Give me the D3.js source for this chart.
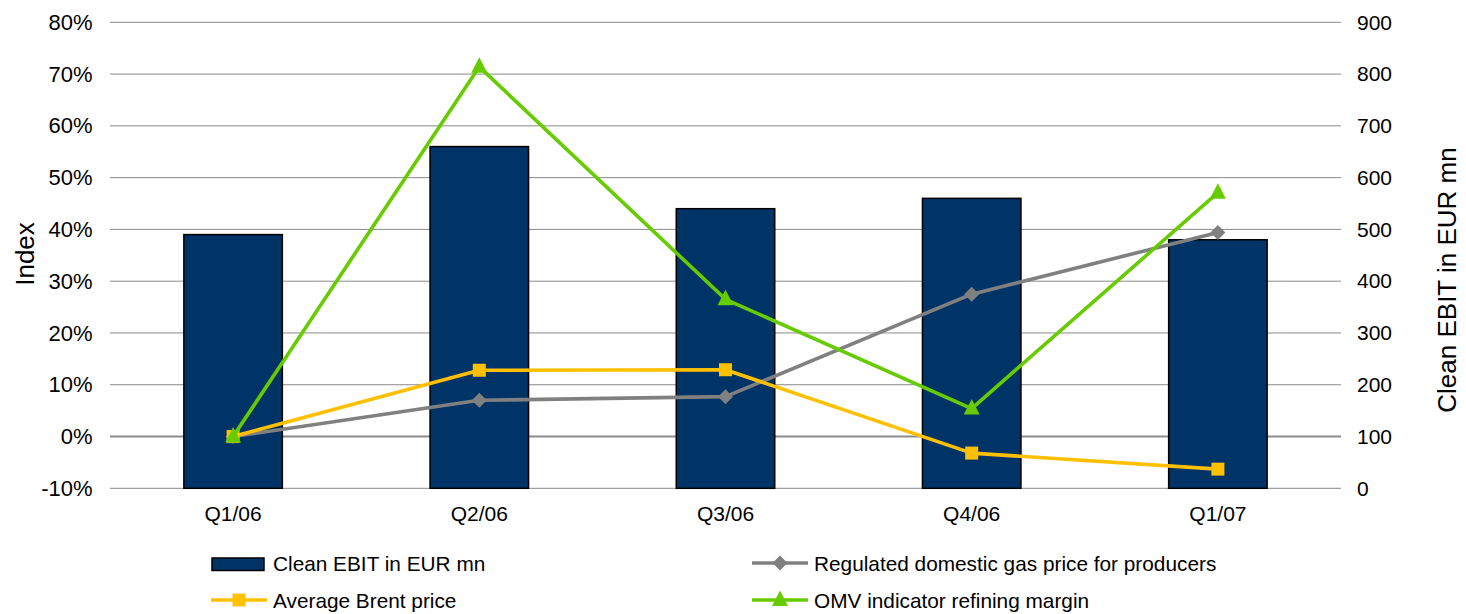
<!DOCTYPE html>
<html>
<head>
<meta charset="utf-8">
<script src="https://cdn.jsdelivr.net/npm/d3@7/dist/d3.min.js"></script>
<style>
  html, body { margin: 0; padding: 0; background: #fff; }
  svg { display: block; font-family: "Liberation Sans", Arial, sans-serif; }
</style>
</head>
<body>
<svg id="chart" width="1466" height="614"></svg>
<script>
const categories = ["Q1/06", "Q2/06", "Q3/06", "Q4/06", "Q1/07"];
const cleanEbit = [490, 660, 540, 560, 480];
const gasPrice = [0, 7.0, 7.7, 27.5, 39.4];
const brentPrice = [0, 12.8, 12.9, -3.2, -6.3];
const refiningMargin = [0, 71.4, 26.5, 5.4, 47.1];
const leftTicks = [-10, 0, 10, 20, 30, 40, 50, 60, 70, 80];
const rightTicks = [0, 100, 200, 300, 400, 500, 600, 700, 800, 900];

(function () {
const svg = d3.select("#chart");
const pLeft = 110, pRight = 1341, pTop = 22.3, pBottom = 488.3;

const x = d3.scaleBand().domain(categories).range([pLeft, pRight])
  .paddingInner(0.6).paddingOuter(0.3);
const yL = d3.scaleLinear().domain([-10, 80]).range([pBottom, pTop]);
const yR = d3.scaleLinear().domain([0, 900]).range([pBottom, pTop]);
const cx = c => x(c) + x.bandwidth() / 2;

// gridlines
svg.append("g").selectAll("line").data(leftTicks.filter(d => d !== 0)).join("line")
  .attr("x1", pLeft).attr("x2", pRight)
  .attr("y1", d => yL(d)).attr("y2", d => yL(d))
  .attr("stroke", "#8a8a8a").attr("stroke-width", 1);
svg.append("line").attr("x1", pLeft).attr("x2", pRight)
  .attr("y1", yL(0)).attr("y2", yL(0))
  .attr("stroke", "#8c8c8c").attr("stroke-width", 2);

// left axis
const axL = svg.append("g").attr("transform", `translate(${pLeft - 17.5},0)`)
  .call(d3.axisLeft(yL).tickValues(leftTicks).tickFormat(d => d + "%").tickSize(0).tickPadding(0));
axL.select(".domain").remove();
axL.selectAll("text").attr("font-size", 22).attr("fill", "#000")
  .attr("font-family", "Liberation Sans, Arial, sans-serif");

// right axis
const axR = svg.append("g").attr("transform", `translate(${pRight + 16},0)`)
  .call(d3.axisRight(yR).tickValues(rightTicks).tickSize(0).tickPadding(0));
axR.select(".domain").remove();
axR.selectAll("text").attr("font-size", 21).attr("fill", "#000")
  .attr("font-family", "Liberation Sans, Arial, sans-serif");

// x axis labels
const axX = svg.append("g").attr("transform", `translate(0,${pBottom + 18})`)
  .call(d3.axisBottom(x).tickSize(0).tickPadding(0));
axX.select(".domain").remove();
axX.selectAll("text").attr("font-size", 21).attr("fill", "#000")
  .attr("font-family", "Liberation Sans, Arial, sans-serif");

// bars
svg.append("g").selectAll("rect").data(cleanEbit).join("rect")
  .attr("x", (d, i) => x(categories[i]))
  .attr("width", x.bandwidth())
  .attr("y", d => yR(d))
  .attr("height", d => yR(0) - yR(d))
  .attr("fill", "#003366").attr("stroke", "#000").attr("stroke-width", 1.5);

// markers
function marker(g, type, color, px, py) {
  if (type === "diamond") {
    g.append("path").attr("d", `M${px},${py - 7.5}L${px + 7.5},${py}L${px},${py + 7.5}L${px - 7.5},${py}Z`).attr("fill", color);
  } else if (type === "square") {
    g.append("rect").attr("x", px - 6.5).attr("y", py - 6.5).attr("width", 13).attr("height", 13).attr("fill", color);
  } else {
    g.append("path").attr("d", `M${px},${py - 9.5}L${px + 8},${py + 6}L${px - 8},${py + 6}Z`).attr("fill", color);
  }
}

const seriesList = [
  { name: "Regulated domestic gas price for producers", values: gasPrice, color: "#808080", type: "diamond" },
  { name: "Average Brent price", values: brentPrice, color: "#FFC000", type: "square" },
  { name: "OMV indicator refining margin", values: refiningMargin, color: "#66CC00", type: "triangle" }
];

const line = d3.line().x((d, i) => cx(categories[i])).y(d => yL(d));
seriesList.forEach(s => {
  const g = svg.append("g");
  g.append("path").datum(s.values).attr("d", line)
    .attr("fill", "none").attr("stroke", s.color).attr("stroke-width", 3.6)
    .attr("stroke-linejoin", "round");
  s.values.forEach((v, i) => marker(g, s.type, s.color, cx(categories[i]), yL(v)));
});

// axis titles
svg.append("text").attr("transform", `translate(25,254) rotate(-90)`)
  .attr("text-anchor", "middle").attr("dominant-baseline", "central")
  .attr("font-size", 26).text("Index");
svg.append("text").attr("transform", `translate(1447,280) rotate(-90)`)
  .attr("text-anchor", "middle").attr("dominant-baseline", "central")
  .attr("font-size", 26).text("Clean EBIT in EUR mn");

// legend
const leg = svg.append("g").attr("font-size", 20.8);
leg.append("rect").attr("x", 212).attr("y", 558).attr("width", 52).attr("height", 12.5)
  .attr("fill", "#003366").attr("stroke", "#000").attr("stroke-width", 1.5);
leg.append("text").attr("x", 273).attr("y", 563).attr("dominant-baseline", "central").text("Clean EBIT in EUR mn");

const legPos = [
  { s: seriesList[0], x0: 752, y: 563 },
  { s: seriesList[1], x0: 211, y: 600 },
  { s: seriesList[2], x0: 752, y: 600 }
];
legPos.forEach(p => {
  leg.append("line").attr("x1", p.x0).attr("x2", p.x0 + 56).attr("y1", p.y).attr("y2", p.y)
    .attr("stroke", p.s.color).attr("stroke-width", 3.6);
  marker(leg, p.s.type, p.s.color, p.x0 + 28, p.y);
  leg.append("text").attr("x", p.x0 + 62).attr("y", p.y).attr("dominant-baseline", "central").text(p.s.name);
});
})();
</script>
</body>
</html>
